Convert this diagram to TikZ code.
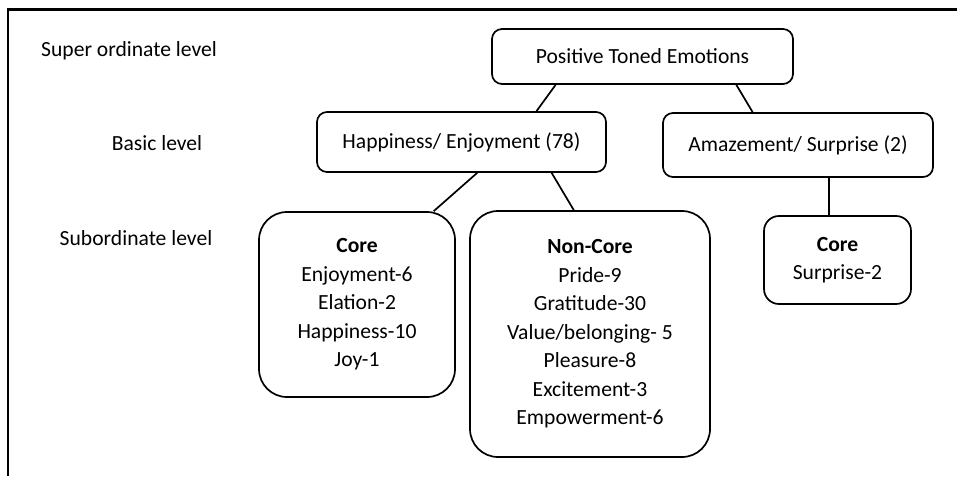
\documentclass[tikz,border=0pt]{standalone}
\usepackage{fontspec}
\setmainfont{Carlito}
\usepackage{tikz}
\usetikzlibrary{calc}
\tikzset{every picture/.style={/utils/exec={\fontsize{21.6}{28.5}\selectfont}}}
\tikzstyle{line}=[line width=1.7pt]
\tikzstyle{box}=[line,draw,rounded corners=10pt,align=center,inner sep=0pt]
\tikzstyle{bigbox}=[box,rounded corners=28pt]
\tikzstyle{lvl}=[align=center]
\begin{document}
\begin{tikzpicture}[x=1pt,y=-1pt]
    \useasboundingbox (0,0) rectangle (957,476);
    \draw[line width=2.4pt] (957,9.6) -- (7.8,9.6) -- (7.8,476);
    % levels
    \node[lvl] (Super) at (129,51) {Super ordinate level};
    \node[lvl] (Basic) at (157,143) {Basic level};
    \node[lvl] (Sub) at (136,238) {Subordinate level};
    % tree
    \node[box,minimum width=301pt,minimum height=55pt] (Pos) at (642.5,56.5) {Positive Toned Emotions};
    \node[box,minimum width=289pt,minimum height=60pt] (Hap) at (461.5,142) {Happiness/ Enjoyment (78)};
    \node[box,minimum width=270pt,minimum height=64pt] (Amz) at (798,145) {Amazement/ Surprise (2)};
    \node[bigbox,minimum width=196pt,minimum height=185pt] (CoreA) at (357,304.5)
      {\textbf{Core}\\Enjoyment-6\\Elation-2\\Happiness-10\\Joy-1};
    \node[bigbox,minimum width=240pt,minimum height=246pt] (NonCore) at (590,334)
      {\textbf{Non-Core}\\Pride-9\\Gratitude-30\\Value/belonging- 5\\Pleasure-8\\Excitement-3\\Empowerment-6};
    \node[box,rounded corners=15pt,minimum width=147pt,minimum height=88pt] (CoreB) at (837.5,260)
      {\textbf{Core}\\Surprise-2};
    \draw[line] ($(Pos.south west)!0.213!(Pos.south east)$) -- ($(Hap.north west)!0.758!(Hap.north east)$);
    \draw[line] ($(Pos.south west)!0.81!(Pos.south east)$) -- ($(Amz.north west)!0.333!(Amz.north east)$);
    \draw[line] ($(Hap.south west)!0.554!(Hap.south east)$) -- ($(CoreA.north west)!0.888!(CoreA.north east)$);
    \draw[line] ($(Hap.south west)!0.81!(Hap.south east)$) -- ($(NonCore.north west)!0.433!(NonCore.north east)$);
    \draw[line] ($(Amz.south west)!0.615!(Amz.south east)$) coordinate (AmzFoot) -- (AmzFoot |- CoreB.north);
\end{tikzpicture}
\end{document}
